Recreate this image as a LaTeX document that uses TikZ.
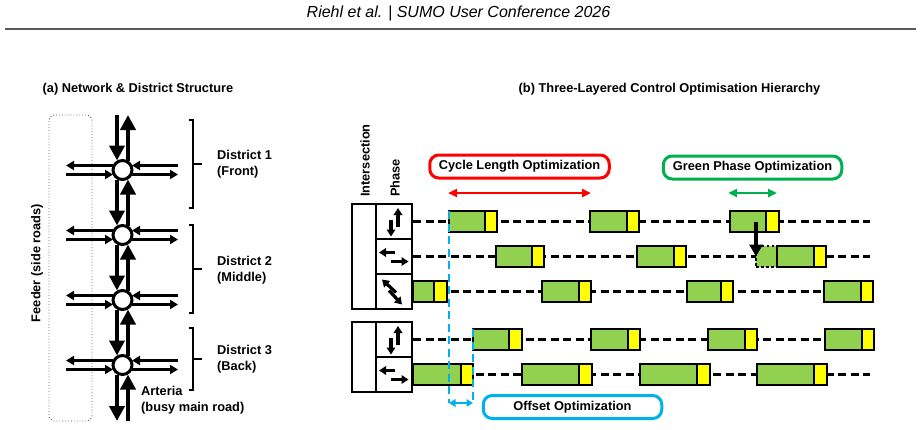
\documentclass[tikz,border=0pt]{standalone}
\usepackage{fontspec}
\setmainfont{Liberation Sans}
\usetikzlibrary{arrows.meta}

\definecolor{barGreen}{RGB}{146,208,80}
\definecolor{barYellow}{RGB}{255,255,0}
\definecolor{offBlue}{RGB}{0,176,240}
\definecolor{cycRed}{RGB}{255,0,0}
\definecolor{optGreen}{RGB}{0,176,80}

\newcommand{\phasebar}[5]{%
	\node[greenbar, minimum width=#4-#3, anchor=west] (#1) at (#3,#2) {};
	\node[yellowbar, minimum width=#5-#4, anchor=west] (#1y) at (#4,#2) {};
}

\begin{document}
\begin{tikzpicture}[x=1pt, y=-1pt,
	lbl/.style={font=\fontsize{12.8}{15.8}\selectfont\bfseries, inner sep=0pt, align=left},
	junction/.style={circle, draw, line width=3pt, fill=white, minimum size=19pt, inner sep=0pt, outer sep=0pt},
	mainlane/.style={line width=4pt, -{Triangle[length=15pt,width=15pt]}},
	sidelane/.style={line width=2.6pt, -{Triangle[length=8pt,width=9pt]}},
	bracket/.style={line width=2pt},
	feederbox/.style={draw=black!60, dotted, line width=0.9pt, rounded corners=6pt, minimum width=43pt, minimum height=306pt},
	cell/.style={draw, line width=2.7pt, minimum width=36pt, minimum height=35pt, inner sep=0pt},
	phasearrow/.style={line width=3.2pt, -{Triangle[length=7pt,width=8.5pt]}},
	timeline/.style={line width=2.8pt, dash pattern=on 8pt off 4.5pt},
	greenbar/.style={draw, line width=2.7pt, fill=barGreen, minimum height=21pt, inner sep=0pt, outer sep=0pt},
	yellowbar/.style={greenbar, fill=barYellow},
	ghostbar/.style={greenbar, dash pattern=on 2.5pt off 2.5pt},
	movearrow/.style={line width=3.5pt, -{Triangle[length=12pt,width=13pt]}},
	offsetline/.style={draw=offBlue, line width=2.8pt, dash pattern=on 8pt off 4.5pt},
	optbox/.style={lbl, draw, fill=white, line width=3pt, rounded corners=9pt, minimum height=23pt},
	optarrow/.style={line width=2.5pt, {Triangle[length=9pt,width=8pt]}-{Triangle[length=9pt,width=8pt]}},
	]
	\useasboundingbox (0,0) rectangle (921,429);

	% header
	\node (header) at (458.5,13) {\fontsize{16}{18}\selectfont\itshape Riehl et al. | SUMO User Conference 2026};
	\draw[black!65, line width=1.5pt] (5,29) -- (916,29);

	\node[lbl] (titleA) at (138,89) {(a) Network \& District Structure};
	\node[lbl] (titleB) at (669.5,89) {(b) Three-Layered Control Optimisation Hierarchy};

	% (a) network
	\node[feederbox] (feeder) at (70.5,268) {};
	\node[lbl, rotate=90] (feederlbl) at (37,263) {Feeder (side roads)};

	\foreach \i/\c in {1/170,2/235,3/300,4/365}{
		\node[junction] (j\i) at (122.5,\c) {};
		\coordinate (w\i) at (66,\c);
		\coordinate (e\i) at (178,\c);
	}
	\coordinate (nTop) at (122.5,115);
	\coordinate (sBot) at (122.5,421);

	\draw[mainlane] ([xshift=-5.5pt]nTop) -- ([xshift=-5.5pt]j1.north);
	\draw[mainlane] ([xshift=5.5pt]j1.north) -- ([xshift=5.5pt]nTop);
	\foreach \a/\b in {1/2,2/3,3/4}{
		\draw[mainlane] ([xshift=-5.5pt]j\a.south) -- ([xshift=-5.5pt]j\b.north);
		\draw[mainlane] ([xshift=5.5pt]j\b.north) -- ([xshift=5.5pt]j\a.south);
	}
	\draw[mainlane] ([xshift=-5.5pt]j4.south) -- ([xshift=-5.5pt]sBot);
	\draw[mainlane] ([xshift=5.5pt]sBot) -- ([xshift=5.5pt]j4.south);

	\foreach \i in {1,...,4}{
		\draw[sidelane] ([yshift=4.5pt]j\i.west) -- ([yshift=4.5pt]w\i);
		\draw[sidelane] ([yshift=-4.5pt]w\i) -- ([yshift=-4.5pt]j\i.west);
		\draw[sidelane] ([yshift=4.5pt]e\i) -- ([yshift=4.5pt]j\i.east);
		\draw[sidelane] ([yshift=-4.5pt]j\i.east) -- ([yshift=-4.5pt]e\i);
	}

	\foreach \t/\b in {120/208,225/313,328/390}
		\draw[bracket] (189,\t) -- (193,\t) -- (193,\b) -- (189,\b) (193,{(\t+\b)/2}) -- (202,{(\t+\b)/2});

	\node[lbl, anchor=west] (dist1) at (217,164) {District 1\\(Front)};
	\node[lbl, anchor=west] (dist2) at (217,270) {District 2\\(Middle)};
	\node[lbl, anchor=west] (dist3) at (217,359) {District 3\\(Back)};
	\node[lbl, anchor=west] (arteria) at (141,400.5) {Arteria\\(busy main road)};

	% (b) phases
	\node[cell, minimum width=24pt, minimum height=105pt] (i1) at (364,256.5) {};
	\node[cell, minimum width=24pt, minimum height=70pt] (i2) at (364,357) {};
	\node[cell] (p1a) at (394,221.5) {};
	\node[cell] (p1b) at (394,256.5) {};
	\node[cell] (p1c) at (394,291.5) {};
	\node[cell] (p2a) at (394,339.5) {};
	\node[cell] (p2b) at (394,374.5) {};
	\node[lbl, rotate=90, anchor=west] (intlbl) at (365,197) {Intersection};
	\node[lbl, rotate=90, anchor=west] (phaselbl) at (395,197) {Phase};

	\foreach \p in {p1a,p2a}{
		\draw[phasearrow] ([shift={(4,5.5)}]\p.center) -- ([shift={(4,-13.5)}]\p.center);
		\draw[phasearrow] ([shift={(-3,-1.5)}]\p.center) -- ([shift={(-3,15)}]\p.center);
	}
	\foreach \p in {p1b,p2b}{
		\draw[phasearrow] ([shift={(1,-4)}]\p.center) -- ([shift={(-15,-4)}]\p.center);
		\draw[phasearrow] ([shift={(-3,5)}]\p.center) -- ([shift={(14.5,5)}]\p.center);
	}
	\draw[phasearrow] ([shift={(2,1)}]p1c.center) -- ([shift={(-12,-12)}]p1c.center);
	\draw[phasearrow] ([shift={(-5,-1)}]p1c.center) -- ([shift={(8,13)}]p1c.center);

	\coordinate (t1a) at (870,221.5);
	\coordinate (t1b) at (870,256.5);
	\coordinate (t1c) at (872,291.5);
	\coordinate (t2a) at (872,339.5);
	\coordinate (t2b) at (870,374.5);
	\draw[timeline] (p1a.east) -- (t1a);
	\draw[timeline] (p1b.east) -- (t1b);
	\draw[timeline] (p1c.east) -- (t1c);
	\draw[timeline] (p2a.east) -- (t2a);
	\draw[timeline] (p2b.east) -- (t2b);

	\node[ghostbar, minimum width=21pt, anchor=west] (ghost) at (756,256.5) {};
	\foreach \n/\a/\b/\c in {1/449/485/497, 2/590/627/639, 3/730/766/779}
		{\phasebar{g1a\n}{221.5}{\a}{\b}{\c}}
	\foreach \n/\a/\b/\c in {1/496/532/544, 2/637/674/686, 3/777/814/826}
		{\phasebar{g1b\n}{256.5}{\a}{\b}{\c}}
	\foreach \n/\a/\b/\c in {1/413/434/447, 2/542/579/591, 3/687/721/733, 4/824/861/873}
		{\phasebar{g1c\n}{291.5}{\a}{\b}{\c}}
	\foreach \n/\a/\b/\c in {1/473/509/522, 2/591/628/640, 3/708/745/757, 4/825/862/874}
		{\phasebar{g2a\n}{339.5}{\a}{\b}{\c}}
	\foreach \n/\a/\b/\c in {1/413/461/473, 2/522/579/592, 3/640/697/710, 4/757/814/827}
		{\phasebar{g2b\n}{374.5}{\a}{\b}{\c}}

	\draw[movearrow] (ghost.west |- g1a3.center) -- (ghost.west);

	% offset
	\coordinate (offL) at (449,403);
	\coordinate (offR) at (473,403);
	\draw[offsetline] (g1a1.north west) -- (offL);
	\draw[offsetline] (g2a1.north west) -- (offR);
	\draw[offBlue, line width=2.2pt, {Triangle[length=6.5pt,width=7.5pt]}-{Triangle[length=6.5pt,width=7.5pt]}] (offL) -- (offR);
	\node[optbox, draw=offBlue, minimum width=178.5pt] (offbox) at (572.5,407) {Offset Optimization};

	% cycle length and green phase
	\node[optbox, draw=cycRed, minimum width=179.5pt] (cycbox) at (519.5,166.5) {Cycle Length Optimization};
	\coordinate (cycL) at (448,193);
	\coordinate (cycR) at (591,193);
	\draw[optarrow, cycRed] (cycL) -- (cycR);
	\node[optbox, draw=optGreen, minimum width=178.5pt] (grnbox) at (752.5,167.5) {Green Phase Optimization};
	\coordinate (grnL) at (728,193);
	\coordinate (grnR) at (777,193);
	\draw[optarrow, optGreen] (grnL) -- (grnR);
\end{tikzpicture}
\end{document}
